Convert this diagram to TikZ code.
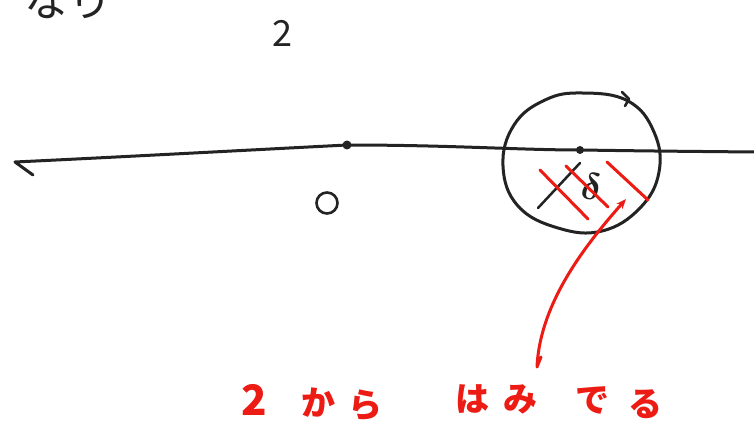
\documentclass[tikz,border=0pt]{standalone}
\usepackage{amsmath}
\usepackage{fontspec}
\newfontfamily\jp{Noto Sans CJK JP}
\usetikzlibrary{arrows.meta}
\definecolor{handred}{RGB}{236,28,20}
\definecolor{ink}{RGB}{35,35,35}
\tikzset{
  inkline/.style={draw=ink, line width=3pt, line cap=round, line join=round},
  redline/.style={draw=handred, line width=3pt, line cap=round, line join=round},
  dotnode/.style={circle, fill=ink, inner sep=0pt, minimum size=9pt},
  redtext/.style={text=handred, font=\jp\bfseries\fontsize{34}{34}\selectfont, inner sep=0pt},
  blacktext/.style={text=ink, font=\jp\fontsize{34}{34}\selectfont, inner sep=0pt},
}
\begin{document}
\begin{tikzpicture}[x=1pt,y=-1pt]
\clip (0,0) rectangle (754,430);
\fill[white] (0,0) rectangle (754,430);
% partial top-left text
\node[blacktext, font=\jp\fontsize{44}{44}\selectfont] (toptext) at (68,0) {なり};
% label 2
\node[blacktext, font=\jp\fontsize{36}{36}\selectfont] (zlabel) at (282,33) {2};
% main line
\node[dotnode] (origin) at (347,145) {};
\node[dotnode, minimum size=8pt] (center) at (580,150) {};
\coordinate (lineleft) at (15,162);
\coordinate (hook) at (33,175);
\coordinate (lineright) at (754,152);
\draw[inkline] (hook) -- (lineleft) .. controls (120,157) and (250,150) .. (origin.center)
  .. controls (450,145) and (520,150) .. (center.center) .. controls (650,151) .. (lineright);
% O label
\node[draw=ink, line width=2.6pt, circle, minimum size=21pt, inner sep=0pt] (olabel) at (327,203) {};
% big circle
\draw[inkline] plot[smooth cycle, tension=0.7] coordinates {
  (582,93) (628,101) (654,132) (659,172) (640,208) (602,231) (558,228) (518,206) (503,166) (514,125) (545,100)};
\coordinate (tickA) at (622,92);
\coordinate (tickB) at (629,99);
\coordinate (tickC) at (625,106);
\draw[inkline, line width=2.6pt] (tickA) -- (tickB) -- (tickC);
% radius line and delta
\coordinate (radA) at (538,208);
\coordinate (radB) at (580,163);
\draw[inkline, line width=2.5pt] (radA) -- (radB);
\node[text=ink, inner sep=0pt, scale=1.5] (delta) at (591,187) {\Huge $\boldsymbol{\delta}$};
% red hatch
\coordinate (h1a) at (540,170); \coordinate (h1b) at (588,219);
\coordinate (h2a) at (566,166); \coordinate (h2b) at (608,207);
\coordinate (h3a) at (607,162); \coordinate (h3b) at (648,200);
\draw[redline] (h1a) -- (h1b);
\draw[redline] (h2a) -- (h2b);
\draw[redline] (h3a) -- (h3b);
% red pointer
\coordinate (ptail) at (541,357);
\coordinate (pstart) at (537,367);
\coordinate (ptip) at (626,199);
\draw[redline, -{Stealth[length=10pt,width=8pt]}] (ptail) -- (pstart) .. controls (540,300) and (590,240) .. (ptip);
% red text
\node[redtext, font=\jp\bfseries\fontsize{42}{42}\selectfont] (c1) at (254,400) {2};
\node[redtext] (c2) at (318,403) {か};
\node[redtext] (c3) at (365,405) {ら};
\node[redtext] (c4) at (472,399) {は};
\node[redtext] (c5) at (520,399) {み};
\node[redtext] (c6) at (592,400) {で};
\node[redtext] (c7) at (645,404) {る};
\end{tikzpicture}
\end{document}
